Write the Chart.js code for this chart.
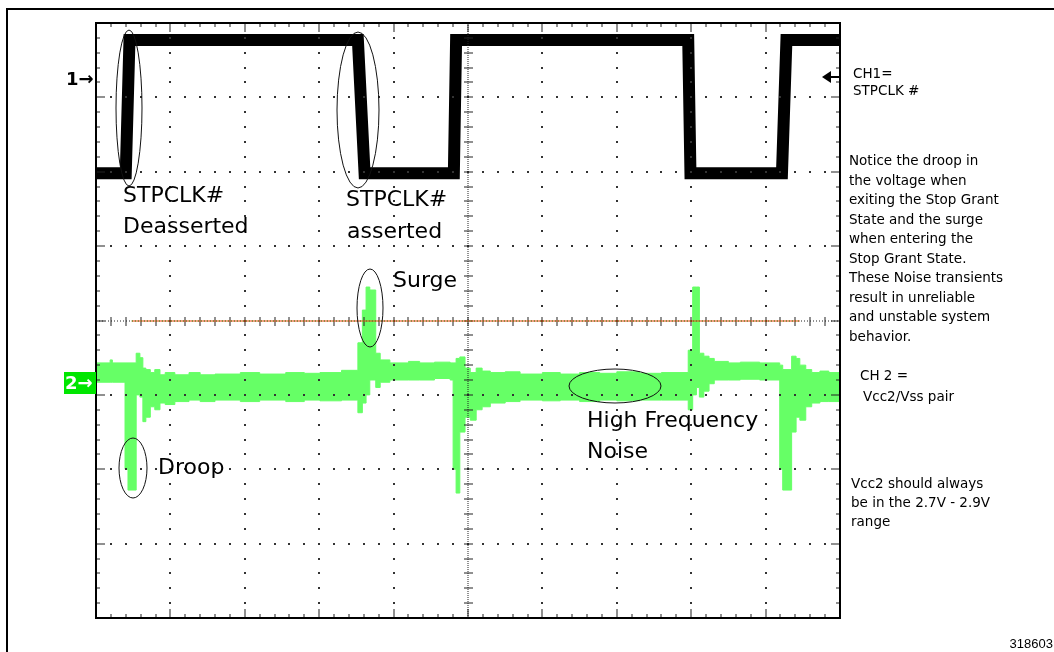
<!DOCTYPE html>
<html>
<head>
<meta charset="utf-8">
<script src="https://cdn.jsdelivr.net/npm/chart.js@4/dist/chart.umd.min.js"></script>
<style>
  body { margin: 0; background: #fff; }
  #wrap { position: relative; width: 1054px; height: 652px; overflow: hidden; }
  #frame { position: absolute; left: 6px; top: 8px; right: -4px; bottom: -4px; border-top: 2px solid #000; border-left: 2px solid #000; }
  canvas { position: absolute; left: 0; top: 0; }
</style>
</head>
<body>
<div id="wrap">
  <div id="frame"></div>
  <canvas id="scope" width="1054" height="652"></canvas>
</div>
<script>
// screen is 10 divisions wide, 8 high, 0 = centre line
const ch1Time = [0, 0.40, 0.45, 3.52, 3.61, 4.81, 4.84, 7.96, 7.99, 9.22, 9.28, 10];
const ch1Level = [1.98, 1.98, 3.77, 3.77, 1.98, 1.98, 3.77, 3.77, 1.98, 1.98, 3.77, 3.77];

// ch2 is a noisy band: top and bottom of the trace, each held until the next time
const ch2Time = [0, 0.19, 0.22, 0.39, 0.43, 0.54, 0.59, 0.63, 0.67, 0.73, 0.79, 0.86, 0.93, 1.06, 1.25, 1.40,
  1.60, 1.94, 2.20, 2.55, 2.80, 3.01, 3.30, 3.52, 3.58, 3.63, 3.68, 3.76, 3.82, 3.95, 4.20, 4.35, 4.55, 4.76,
  4.80, 4.84, 4.89, 4.96, 5.03, 5.11, 5.19, 5.30, 5.50, 5.70, 6.00, 6.24, 6.50, 6.77, 7.00, 7.31, 7.60, 7.96,
  8.02, 8.07, 8.11, 8.17, 8.24, 8.31, 8.50, 8.66, 8.92, 9.19, 9.23, 9.35, 9.41, 9.46, 9.54, 9.62, 9.73, 9.85, 10];
const ch2Top = [-0.57, -0.53, -0.57, -0.57, -0.57, -0.44, -0.50, -0.64, -0.66, -0.70, -0.66, -0.73, -0.70, -0.73, -0.70, -0.73,
  -0.72, -0.70, -0.72, -0.70, -0.71, -0.70, -0.67, -0.30, 0.14, 0.45, 0.41, -0.44, -0.53, -0.57, -0.55, -0.57, -0.56, -0.57,
  -0.57, -0.51, -0.49, -0.64, -0.70, -0.64, -0.68, -0.70, -0.69, -0.72, -0.70, -0.72, -0.70, -0.71, -0.69, -0.71, -0.70, -0.40,
  0.45, 0.45, -0.44, -0.48, -0.51, -0.55, -0.57, -0.56, -0.57, -0.60, -0.66, -0.48, -0.51, -0.60, -0.66, -0.70, -0.68, -0.70, -0.70];
const ch2Bottom = [-0.83, -0.83, -0.83, -2.00, -2.28, -1.00, -1.03, -1.36, -1.30, -1.16, -1.20, -1.11, -1.13, -1.09, -1.07, -1.09,
  -1.07, -1.09, -1.07, -1.09, -1.07, -1.08, -1.07, -1.24, -1.11, -1.00, -0.80, -0.90, -0.83, -0.80, -0.80, -0.80, -0.78, -0.80,
  -2.00, -2.32, -1.50, -1.30, -1.34, -1.20, -1.16, -1.11, -1.09, -1.07, -1.08, -1.07, -1.09, -1.07, -1.08, -1.07, -1.07, -1.20,
  -1.00, -0.90, -1.03, -0.95, -0.85, -0.80, -0.80, -0.79, -0.80, -2.00, -2.28, -1.50, -1.30, -1.34, -1.16, -1.11, -1.09, -1.09, -1.09];

const GREEN = "#66ff66";
const toPoints = (xs, ys) => xs.map((x, i) => ({ x: x, y: ys[i] }));

const scopeGrid = {
  id: "scopeGrid",
  afterDatasetsDraw(chart) {
    const { ctx, chartArea: a, scales: { x, y } } = chart;
    ctx.save();
    ctx.fillStyle = "#333";
    const dot = (px, py) => ctx.fillRect(Math.round(px) - 1, Math.round(py) - 1, 2, 2);

    // dotted major lines
    for (let i = 1; i < 10; i++) {
      if (i === 5) continue;
      const px = x.getPixelForValue(i);
      for (let j = 1; j < 40; j++) dot(px, y.getPixelForValue(-4 + j * 0.2));
    }
    for (let k = -3; k <= 3; k++) {
      if (k === 0) continue;
      const py = y.getPixelForValue(k);
      for (let j = 1; j < 50; j++) dot(x.getPixelForValue(j * 0.2), py);
    }

    // ticks on the edges
    ctx.fillStyle = "#222";
    for (let j = 1; j < 50; j++) {
      const px = Math.round(x.getPixelForValue(j * 0.2));
      const len = j % 5 === 0 ? 9 : 4;
      ctx.fillRect(px - 0.5, a.top, 1, len);
      ctx.fillRect(px - 0.5, a.bottom - len, 1, len);
    }
    for (let j = 1; j < 40; j++) {
      const py = Math.round(y.getPixelForValue(-4 + j * 0.2));
      const len = j % 5 === 0 ? 9 : 4;
      ctx.fillRect(a.left, py - 0.5, len, 1);
      ctx.fillRect(a.right - len, py - 0.5, len, 1);
    }

    // centre cross with ticks
    const cx = Math.round(x.getPixelForValue(5));
    const cy = Math.round(y.getPixelForValue(0));
    for (let py = a.top; py < a.bottom; py += 2) ctx.fillRect(cx - 0.5, py, 1, 1);
    for (let px = a.left; px < a.right; px += 3) ctx.fillRect(px, cy - 0.5, 1, 1);
    for (let j = 1; j < 40; j++) {
      const py = Math.round(y.getPixelForValue(-4 + j * 0.2));
      ctx.fillRect(cx - 4, py - 0.5, 9, 1);
    }
    for (let j = 1; j < 50; j++) {
      const px = Math.round(x.getPixelForValue(j * 0.2));
      ctx.fillRect(px - 0.5, cy - 4, 1, 9);
    }
    // reference trace on the centre line
    const r0 = x.getPixelForValue(0.48), r1 = x.getPixelForValue(9.46);
    ctx.fillStyle = "#ff3a10";
    ctx.fillRect(r0, cy - 0.5, r1 - r0, 1);
    ctx.fillStyle = "#30d030";
    for (let px = r0; px < r1; px += 3) ctx.fillRect(px, cy - 0.5, 1, 1);

    // frame
    ctx.strokeStyle = "#000";
    ctx.lineWidth = 2;
    ctx.strokeRect(a.left, a.top, a.right - a.left, a.bottom - a.top);
    ctx.restore();
  },
};

const notes = {
  id: "notes",
  afterDraw(chart) {
    const { ctx } = chart;
    ctx.save();

    // ellipses
    ctx.strokeStyle = "#111";
    ctx.lineWidth = 1;
    const rings = [[129, 108, 13, 78], [358, 110, 21, 78], [370, 308, 13, 39], [133, 468, 14, 30], [615, 386, 46, 17]];
    rings.forEach(([ex, ey, rx, ry]) => {
      ctx.beginPath();
      ctx.ellipse(ex, ey, rx, ry, 0, 0, Math.PI * 2);
      ctx.stroke();
    });

    // big labels
    ctx.fillStyle = "#000";
    ctx.font = "22px 'DejaVu Sans'";
    ctx.textBaseline = "alphabetic";
    [["STPCLK#", 123, 202], ["Deasserted", 123, 233], ["STPCLK#", 346, 206], ["asserted", 347, 238],
     ["Surge", 393, 287], ["Droop", 158, 474], ["High Frequency", 587, 427], ["Noise", 587, 458]]
      .forEach(([t, tx, ty]) => ctx.fillText(t, tx, ty));

    // side notes
    ctx.font = "13.5px 'DejaVu Sans'";
    ctx.fillText("CH1=", 853, 78);
    ctx.fillText("STPCLK #", 853, 95);
    const notice = ["Notice the droop in", "the voltage when", "exiting the Stop Grant", "State and the surge",
      "when entering the", "Stop Grant State.", "These Noise transients", "result in unreliable",
      "and unstable system", "behavior."];
    notice.forEach((t, i) => ctx.fillText(t, 849, 165 + i * 19.5));
    ctx.fillText("CH 2 =", 860, 380);
    ctx.fillText("Vcc2/Vss pair", 863, 401);
    ctx.fillText("Vcc2 should always", 851, 488);
    ctx.fillText("be in the 2.7V - 2.9V", 851, 507);
    ctx.fillText("range", 851, 526);

    ctx.font = "13px 'Liberation Sans'";
    ctx.textAlign = "right";
    ctx.fillText("318603", 1053, 648);
    ctx.textAlign = "left";

    // channel markers
    ctx.font = "bold 18px 'DejaVu Sans'";
    ctx.textBaseline = "middle";
    ctx.fillText("1\u2192", 66, 80);
    ctx.fillStyle = "#00e600";
    ctx.fillRect(64, 372, 32, 22);
    ctx.fillStyle = "#fff";
    ctx.fillText("2\u2192", 65, 384);

    // trigger level arrow on the right
    ctx.fillStyle = "#000";
    ctx.beginPath();
    ctx.moveTo(822, 77);
    ctx.lineTo(831, 71);
    ctx.lineTo(831, 83);
    ctx.closePath();
    ctx.fill();
    ctx.fillRect(830, 76, 9, 2);
    ctx.restore();
  },
};

new Chart(document.getElementById("scope"), {
  type: "line",
  data: {
    datasets: [
      { data: toPoints(ch2Time, ch2Bottom), stepped: true, borderColor: GREEN, borderWidth: 1, pointRadius: 0, fill: false },
      { data: toPoints(ch2Time, ch2Top), stepped: true, borderColor: GREEN, borderWidth: 1, pointRadius: 0, fill: "-1", backgroundColor: GREEN },
      { data: toPoints(ch1Time, ch1Level), borderColor: "#000", borderWidth: 12, pointRadius: 0, fill: false, borderJoinStyle: "miter", tension: 0 },
    ],
  },
  options: {
    responsive: false,
    animation: false,
    devicePixelRatio: 1,
    layout: { padding: { left: 96, top: 23, right: 214, bottom: 34 } },
    scales: {
      x: { type: "linear", min: 0, max: 10, display: false },
      y: { type: "linear", min: -4, max: 4, display: false },
    },
    plugins: {
      legend: { display: false },
      tooltip: { enabled: false },
    },
  },
  plugins: [scopeGrid, notes],
});
</script>
</body>
</html>
